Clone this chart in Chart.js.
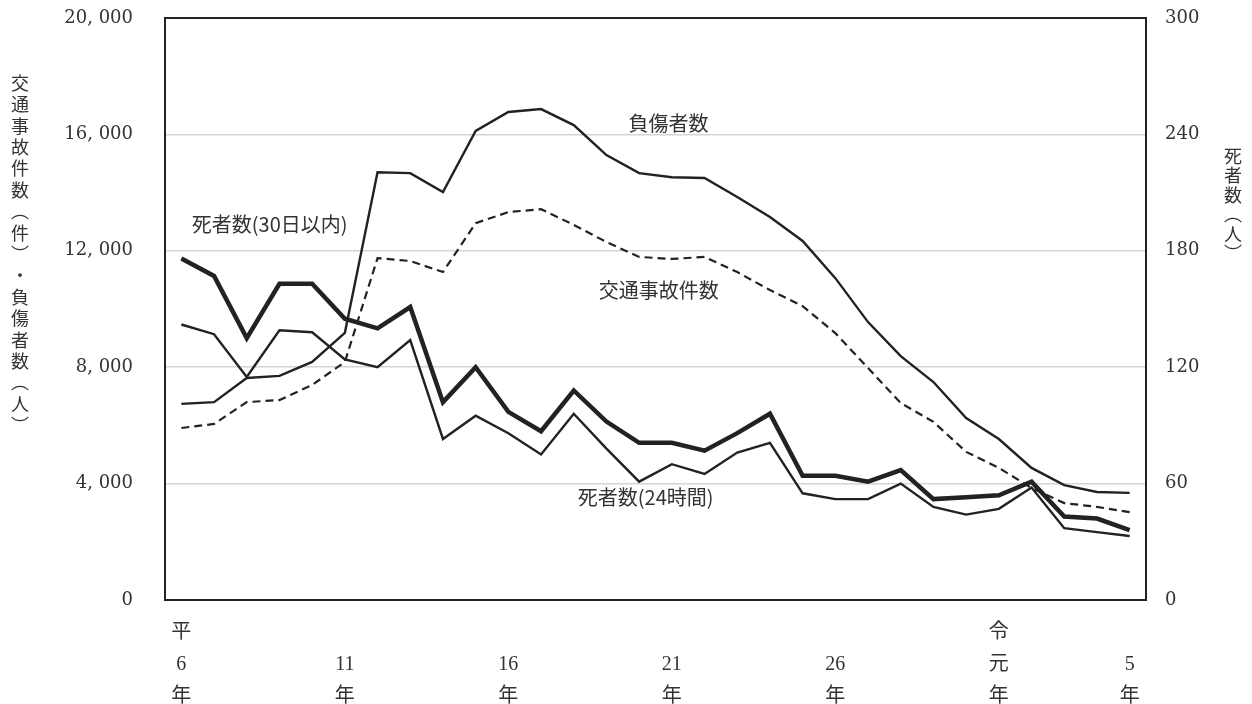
<!DOCTYPE html>
<html lang="ja">
<head>
<meta charset="utf-8">
<script src="https://cdn.jsdelivr.net/npm/chart.js@4"></script>
<style>
  html, body { margin: 0; padding: 0; background: #fff; }
  #wrap { width: 1252px; height: 704px; }
</style>
</head>
<body>
<div id="wrap"><canvas id="chart"></canvas></div>
<script>
// Categories (平成6年 .. 令和5年)
const categories = ['平6', '7', '8', '9', '10', '11', '12', '13', '14', '15', '16', '17', '18', '19', '20',
  '21', '22', '23', '24', '25', '26', '27', '28', '29', '30', '令元', '2', '3', '4', '5'];
const shownTicks = ['平6', '11', '16', '21', '26', '令元', '5'];

// Left axis series
const accidents = [5910, 6050, 6800, 6870, 7390, 8180, 11750, 11650, 11270, 12950, 13330, 13430, 12890, 12300, 11790,
  11720, 11790, 11270, 10650, 10100, 9170, 7970, 6770, 6120, 5090, 4540, 3850, 3330, 3200, 3020];
const injured = [6740, 6800, 7630, 7700, 8180, 9180, 14700, 14670, 14020, 16120, 16770, 16870, 16320, 15290, 14670,
  14530, 14500, 13850, 13160, 12340, 11060, 9550, 8380, 7490, 6250, 5530, 4540, 3950, 3710, 3680];

// Right axis series
const deaths30 = [176, 167, 135, 163, 163, 145, 140, 151, 102, 120, 97, 87, 108, 92, 81,
  81, 77, 86, 96, 64, 64, 61, 67, 52, 53, 54, 61, 43, 42, 36];
const deaths24 = [142, 137, 115, 139, 138, 124, 120, 134, 83, 95, 86, 75, 96, 78, 61,
  70, 65, 76, 81, 55, 52, 52, 60, 48, 44, 47, 58, 37, 35, 33];

// In-chart labels (category position, left-axis value)
const noteTexts = ['負傷者数', '交通事故件数', '死者数(30日以内)', '死者数(24時間)'];
const noteIdx = [14.9, 14.6, 2.7, 14.2];
const noteVals = [16390, 10650, 12920, 3540];

const leftTitle = '交通事故件数︵件︶・負傷者数︵人︶';
const rightTitle = '死者数︵人︶';

const ink = '#222';
const textColor = '#333';
const jpFont = '"Noto Sans CJK JP", sans-serif';
const numFont = '"DejaVu Serif", "Noto Sans CJK JP", serif';

// Frame, titles and in-chart labels
const decorPlugin = {
    id: 'decor',
    afterDraw(chart) {
        const { ctx, chartArea, scales } = chart;
        ctx.save();
        ctx.strokeStyle = ink;
        ctx.lineWidth = 2;
        ctx.strokeRect(chartArea.left, chartArea.top, chartArea.right - chartArea.left, chartArea.bottom - chartArea.top);

        ctx.fillStyle = textColor;
        ctx.textAlign = 'center';
        ctx.textBaseline = 'middle';
        ctx.font = '20px ' + jpFont;
        noteTexts.forEach((t, i) => {
            ctx.fillText(t, scales.x.getPixelForValue(noteIdx[i]), scales.y.getPixelForValue(noteVals[i]));
        });

        ctx.font = '18px ' + jpFont;
        [...leftTitle].forEach((c, i) => ctx.fillText(c, 20, 83 + i * 21.4));
        [...rightTitle].forEach((c, i) => ctx.fillText(c, 1233, 156 + i * 19.5));
        ctx.restore();
    }
};

new Chart(document.getElementById('chart'), {
    type: 'line',
    data: {
        labels: categories,
        datasets: [
            { label: '交通事故件数', data: accidents, yAxisID: 'y', borderColor: ink, borderWidth: 2.2, borderDash: [8, 5] },
            { label: '負傷者数', data: injured, yAxisID: 'y', borderColor: ink, borderWidth: 2.4 },
            { label: '死者数(30日以内)', data: deaths30, yAxisID: 'y1', borderColor: ink, borderWidth: 4.5 },
            { label: '死者数(24時間)', data: deaths24, yAxisID: 'y1', borderColor: ink, borderWidth: 2.4 }
        ]
    },
    options: {
        responsive: true,
        maintainAspectRatio: false,
        animation: false,
        elements: {
            point: { radius: 0 },
            line: { tension: 0, borderJoinStyle: 'miter' }
        },
        layout: { padding: { top: 18, left: 0, right: 0, bottom: 0 } },
        plugins: {
            legend: { display: false },
            tooltip: { enabled: false }
        },
        scales: {
            x: {
                offset: true,
                grid: { display: false, drawTicks: false },
                border: { display: false },
                afterFit: (scale) => { scale.height = 104; },
                ticks: {
                    autoSkip: false,
                    maxRotation: 0,
                    padding: 17,
                    color: textColor,
                    font: { family: '"Liberation Serif", "Noto Sans CJK JP", serif', size: 20, lineHeight: '32px' },
                    callback: function (value) {
                        const lab = categories[value];
                        if (!shownTicks.includes(lab)) return '';
                        const era = /^[平令]/.test(lab) ? lab[0] : '';
                        return [era, era ? lab.slice(1) : lab, '年'];
                    }
                }
            },
            y: {
                position: 'left',
                min: 0,
                max: 20000,
                grid: { color: '#d4d4d4', lineWidth: 1.5, drawTicks: true, tickLength: 32, tickColor: 'rgba(0,0,0,0)' },
                border: { display: false },
                afterFit: (scale) => { scale.width = 165; },
                ticks: {
                    stepSize: 4000,
                    padding: 0,
                    color: textColor,
                    font: { family: numFont, size: 18 },
                    callback: (v) => v === 0 ? '0' : Math.floor(v / 1000) + ', ' + String(v % 1000).padStart(3, '0')
                }
            },
            y1: {
                position: 'right',
                min: 0,
                max: 300,
                grid: { display: false, drawOnChartArea: false, drawTicks: true, tickLength: 19, tickColor: 'rgba(0,0,0,0)' },
                border: { display: false },
                afterFit: (scale) => { scale.width = 106; },
                ticks: {
                    stepSize: 60,
                    padding: 0,
                    color: textColor,
                    font: { family: numFont, size: 18 }
                }
            }
        }
    },
    plugins: [decorPlugin]
});
</script>
</body>
</html>
